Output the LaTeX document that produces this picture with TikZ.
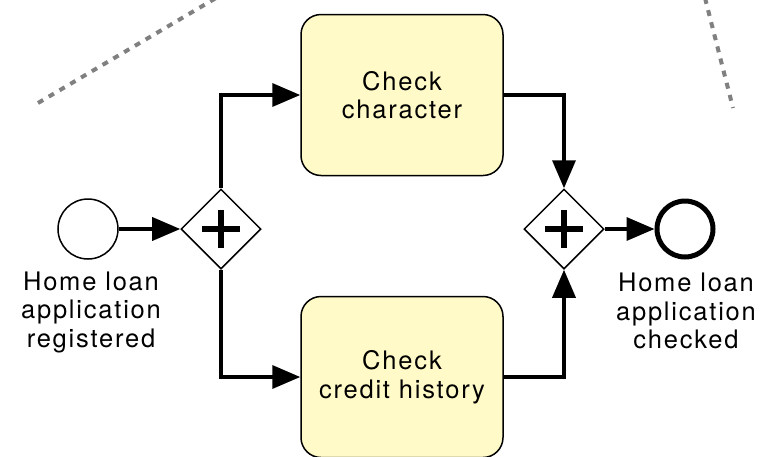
\documentclass[tikz,border=0pt]{standalone}
\usepackage{fontspec}
\setmainfont[LetterSpace=7]{TeX Gyre Heros}
\usepackage{tikz}
\usetikzlibrary{arrows.meta,shapes.geometric}
\usepackage{xcolor}
\definecolor{taskfill}{RGB}{255,250,200}
\definecolor{poolgray}{RGB}{128,128,128}

\tikzset{
  task/.style={draw, line width=1.5pt, fill=taskfill, rounded corners=20pt,
    minimum width=202pt, minimum height=161pt, align=center,
    font=\fontsize{25.5}{28.5}\selectfont},
  gateway/.style={draw, diamond, line width=1.5pt, fill=white,
    minimum width=80pt, minimum height=80pt, inner sep=0pt,
    path picture={
      \draw[line width=6pt] ([xshift=-19pt]path picture bounding box.center)
        -- ([xshift=19pt]path picture bounding box.center);
      \draw[line width=6pt] ([yshift=-19pt]path picture bounding box.center)
        -- ([yshift=19pt]path picture bounding box.center);}},
  startevent/.style={draw, circle, line width=1.5pt, fill=white,
    minimum size=60pt, inner sep=0pt},
  endevent/.style={draw, circle, line width=5pt, fill=white,
    minimum size=56pt, inner sep=0pt},
  eventlabel/.style={align=center, font=\fontsize{25.5}{28.5}\selectfont},
  flow/.style={line width=3.5pt, -{Triangle[length=28pt,width=23pt]}},
  poolline/.style={poolgray, line width=4pt, dash pattern=on 6pt off 6.5pt},
}

\begin{document}
\begin{tikzpicture}[x=1pt,y=-1pt]
\clip (0,0) rectangle (764,456);
\useasboundingbox (0,0) rectangle (764,456);

% pool borders
\draw[poolline] (38,103) -- (216,-2);
\draw[poolline] (705,-2) -- (733,108);

% events and gateways
\node[startevent] (start) at (88,229) {};
\node[eventlabel] (startlabel) at (91,312) {Home loan\\application\\registered};
\node[gateway] (split) at (221,229) {};
\node[gateway] (join) at (564,229) {};
\node[endevent] (end) at (685,229) {};
\node[eventlabel] (endlabel) at (686,311) {Home loan\\application\\checked};

% tasks
\node[task] (character) at (402,95) {Check\\character};
\node[task] (credit) at (402,377) {Check\\credit history};

% sequence flows
\draw[flow] (start) -- (split);
\draw[flow] (split.north) |- (character.west);
\draw[flow] (split.south) |- (credit.west);
\draw[flow] (character.east) -| (join.north);
\draw[flow] (credit.east) -| (join.south);
\draw[flow] (join) -- (end);
\end{tikzpicture}
\end{document}
